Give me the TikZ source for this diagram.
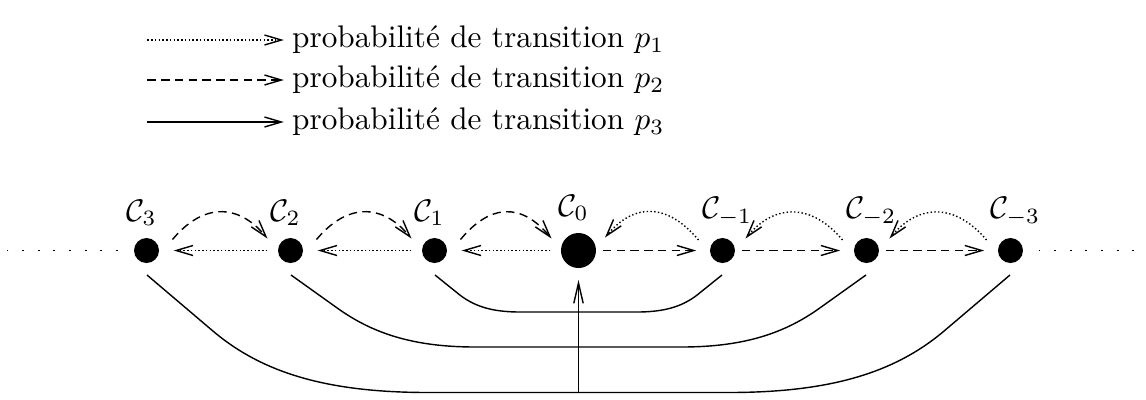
\documentclass[tikz,border=0pt]{standalone}
\usepackage{amsmath,amssymb}
\usepackage{tikz}
\usetikzlibrary{arrows.meta,positioning,calc}

\begin{document}
\begin{tikzpicture}[
  x=0.32pt, y=0.32pt,
  node distance=46.08pt, on grid,
  dot/.style={circle, fill=black, inner sep=0pt, minimum size=8pt},
  bigdot/.style={dot, minimum size=11.2pt},
  lbl/.style={anchor=south west, inner sep=0pt, xshift=-6.7pt, yshift=3.5pt},
  legtxt/.style={anchor=west, inner sep=1pt},
  base/.style={line width=0.45pt},
  arr/.style={-{Straight Barb[length=5.4pt,width=3.2pt]}},
  uparr/.style={-{Straight Barb[length=6.5pt,width=3pt]}},
  pone/.style={base, dash pattern=on 0.45pt off 0.75pt},
  ptwo/.style={base, dash pattern=on 2.7pt off 1.7pt},
  pthree/.style={base},
  sparse/.style={line width=0.6pt, dash pattern=on 0.6pt off 4.4pt}
]
\useasboundingbox (-578.5,-148.5) rectangle (567.5,250.5);

% legend
\coordinate (s1) at (-431,210.5);
\coordinate (s2) at (-431,170.5);
\coordinate (s3) at (-431,128.5);
\node[legtxt] (t1) at (-290,210.5) {probabilit\'e de transition $p_1$};
\node[legtxt] (t2) at (-290,170.5) {probabilit\'e de transition $p_2$};
\node[legtxt] (t3) at (-290,128.5) {probabilit\'e de transition $p_3$};
\draw[pone,arr,shorten >=1.5pt] (s1) -- (t1);
\draw[ptwo,arr,shorten >=1.5pt] (s2) -- (t2);
\draw[pthree,arr,shorten >=1.5pt] (s3) -- (t3);

% chain of classes
\node[bigdot] (c0) at (0,0) {};
\node[dot, left=of c0] (c1) {};
\node[dot, left=of c1] (c2) {};
\node[dot, left=of c2] (c3) {};
\node[dot, right=of c0] (cm1) {};
\node[dot, right=of cm1] (cm2) {};
\node[dot, right=of cm2] (cm3) {};

\node[lbl] (n3) at (c3.north) {$\mathcal{C}_3$};
\node[lbl] (n2) at (c2.north) {$\mathcal{C}_2$};
\node[lbl] (n1) at (c1.north) {$\mathcal{C}_1$};
\node[lbl] (n0) at (c0.north) {$\mathcal{C}_0$};
\node[lbl] (nm1) at (cm1.north) {$\mathcal{C}_{-1}$};
\node[lbl] (nm2) at (cm2.north) {$\mathcal{C}_{-2}$};
\node[lbl] (nm3) at (cm3.north) {$\mathcal{C}_{-3}$};

\coordinate (lend) at (-572,0);
\coordinate (rend) at (558,0);
\draw[sparse, shorten <=5pt] (c3) -- (lend);
\draw[sparse, shorten <=4.8pt] (cm3) -- (rend);

% p1 : vers la gauche
\draw[pone,arr,shorten <=3.2pt,shorten >=4.5pt] (c2) -- (c3);
\draw[pone,arr,shorten <=3.2pt,shorten >=4.5pt] (c1) -- (c2);
\draw[pone,arr,shorten <=3.2pt,shorten >=4.5pt] (c0) -- (c1);
\draw[pone,arr] ([shift={(-24,10.5)}]cm1.center) .. controls +(-30,36) and +(30,36) .. ([shift={(26.5,13)}]c0.center);
\draw[pone,arr] ([shift={(-24,10.5)}]cm2.center) .. controls +(-30,36) and +(30,36) .. ([shift={(23,12)}]cm1.center);
\draw[pone,arr] ([shift={(-24,10.5)}]cm3.center) .. controls +(-30,36) and +(30,36) .. ([shift={(23,12)}]cm2.center);

% p2 : vers la droite
\draw[ptwo,arr,shorten <=2pt,shorten >=4.2pt] (c0) -- (cm1);
\draw[ptwo,arr,shorten <=2pt,shorten >=4.2pt] (cm1) -- (cm2);
\draw[ptwo,arr,shorten <=2pt,shorten >=4.2pt] (cm2) -- (cm3);
\draw[ptwo,arr] ([shift={(26,11)}]c3.center) .. controls +(30,36) and +(-30,36) .. ([shift={(-23,12)}]c2.center);
\draw[ptwo,arr] ([shift={(26,11)}]c2.center) .. controls +(30,36) and +(-30,36) .. ([shift={(-23,12)}]c1.center);
\draw[ptwo,arr] ([shift={(26,11)}]c1.center) .. controls +(30,36) and +(-30,36) .. ([shift={(-27,12)}]c0.center);

% p3 : retour vers C0
\draw[pthree] ([shift={(0.5,-24.5)}]c1.center) -- (-118,-45) .. controls (-102,-57) and (-84,-61.5) .. (-58,-61.5)
  -- (58,-61.5) .. controls (84,-61.5) and (102,-57) .. (118,-45) -- ([shift={(-0.5,-24.5)}]cm1.center);
\draw[pthree] ([shift={(0.5,-24.5)}]c2.center) -- (-242,-57) .. controls (-206,-83) and (-165,-96.5) .. (-103,-96.5)
  -- (103,-96.5) .. controls (165,-96.5) and (206,-83) .. (242,-57) -- ([shift={(-0.5,-24.5)}]cm2.center);
\draw[pthree] ([shift={(0.5,-24.5)}]c3.center) -- (-365,-81) .. controls (-315,-123) and (-250,-142) .. (-150,-142)
  -- (150,-142) .. controls (250,-142) and (315,-123) .. (365,-81) -- ([shift={(-0.5,-24.5)}]cm3.center);
\coordinate (foot) at (0,-142);
\draw[pthree,uparr,shorten >=3.6pt] (foot) -- (c0);
\end{tikzpicture}
\end{document}
